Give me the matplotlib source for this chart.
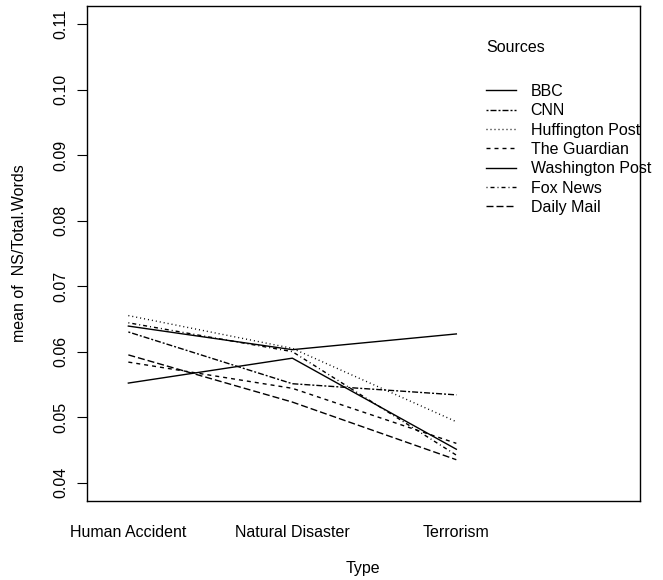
import matplotlib
matplotlib.use("Agg")
import matplotlib.pyplot as plt

plt.rcParams['font.family'] = ['Liberation Sans', 'DejaVu Sans']
plt.rcParams['lines.scale_dashes'] = False

types = ["Human Accident", "Natural Disaster", "Terrorism"]
sources = ["BBC", "CNN", "Huffington Post", "The Guardian",
           "Washington Post", "Fox News", "Daily Mail"]
bbc = [0.0639, 0.0603, 0.0627]
cnn = [0.0630, 0.0551, 0.0534]
huffington = [0.0655, 0.0605, 0.0493]
guardian = [0.0584, 0.0544, 0.0460]
washington = [0.0552, 0.0590, 0.0451]
fox = [0.0644, 0.0600, 0.0442]
daily_mail = [0.0595, 0.0523, 0.0435]
values = [bbc, cnn, huffington, guardian, washington, fox, daily_mail]

# R lty patterns in pixels (on, off, ...), converted to points below
px = 0.72
patterns = {
    "solid": None,
    "twodash": (2, 2, 6, 2),
    "dotted": (1, 3),
    "dashed": (4, 4),
    "dotdash": (1, 3, 4, 3),
    "longdash": (7, 3),
}
styles = ["solid", "twodash", "dotted", "dashed", "solid", "dotdash", "longdash"]

fig = plt.figure(figsize=(6.63, 5.8), dpi=100)
ax = fig.add_axes([86.7 / 663, 1 - 501 / 580, (640 - 86.7) / 663, (501 - 5.7) / 580])

xs = [1, 2, 3]
handles = []
for name, vals, st in zip(sources, values, styles):
    pat = patterns[st]
    if pat is None:
        ls = '-'
    else:
        ls = (0, tuple(p * px for p in pat))
    h, = ax.plot(xs, vals, color='black', lw=1.0, linestyle=ls, label=name)
    handles.append(h)

ax.set_xlim(0.746, 4.12)
ax.set_ylim(0.0372, 0.1128)
ax.set_xticks(xs)
ax.set_xticklabels(types, fontsize=11.5)
ax.tick_params(axis='x', length=0, pad=17)
ax.set_yticks([0.04, 0.05, 0.06, 0.07, 0.08, 0.09, 0.10, 0.11])
ax.set_yticklabels(["0.04", "0.05", "0.06", "0.07", "0.08", "0.09", "0.10", "0.11"],
                   rotation=90, va='center', fontsize=11.5)
ax.tick_params(axis='y', length=7.2, width=0.8, pad=6)
for sp in ax.spines.values():
    sp.set_linewidth(1.0)

fig.text(20 / 663, 1 - 253 / 580, "mean of  NS/Total.Words", rotation=90,
         ha='center', va='center', fontsize=11.5)
fig.text(363 / 663, 1 - 569 / 580, "Type", ha='center', va='center', fontsize=11.5)

fig.text(486 / 663, 1 - 47 / 580, "Sources", ha='left', va='center', fontsize=11.5)
leg = ax.legend(handles=handles, loc='upper left',
                bbox_to_anchor=(486 / 663, 1 - 84 / 580),
                bbox_transform=fig.transFigure, frameon=False, fontsize=11.5,
                borderpad=0, borderaxespad=0, handlelength=1.85,
                handletextpad=0.95, labelspacing=0.27)

fig.savefig("out.png", dpi=100)
